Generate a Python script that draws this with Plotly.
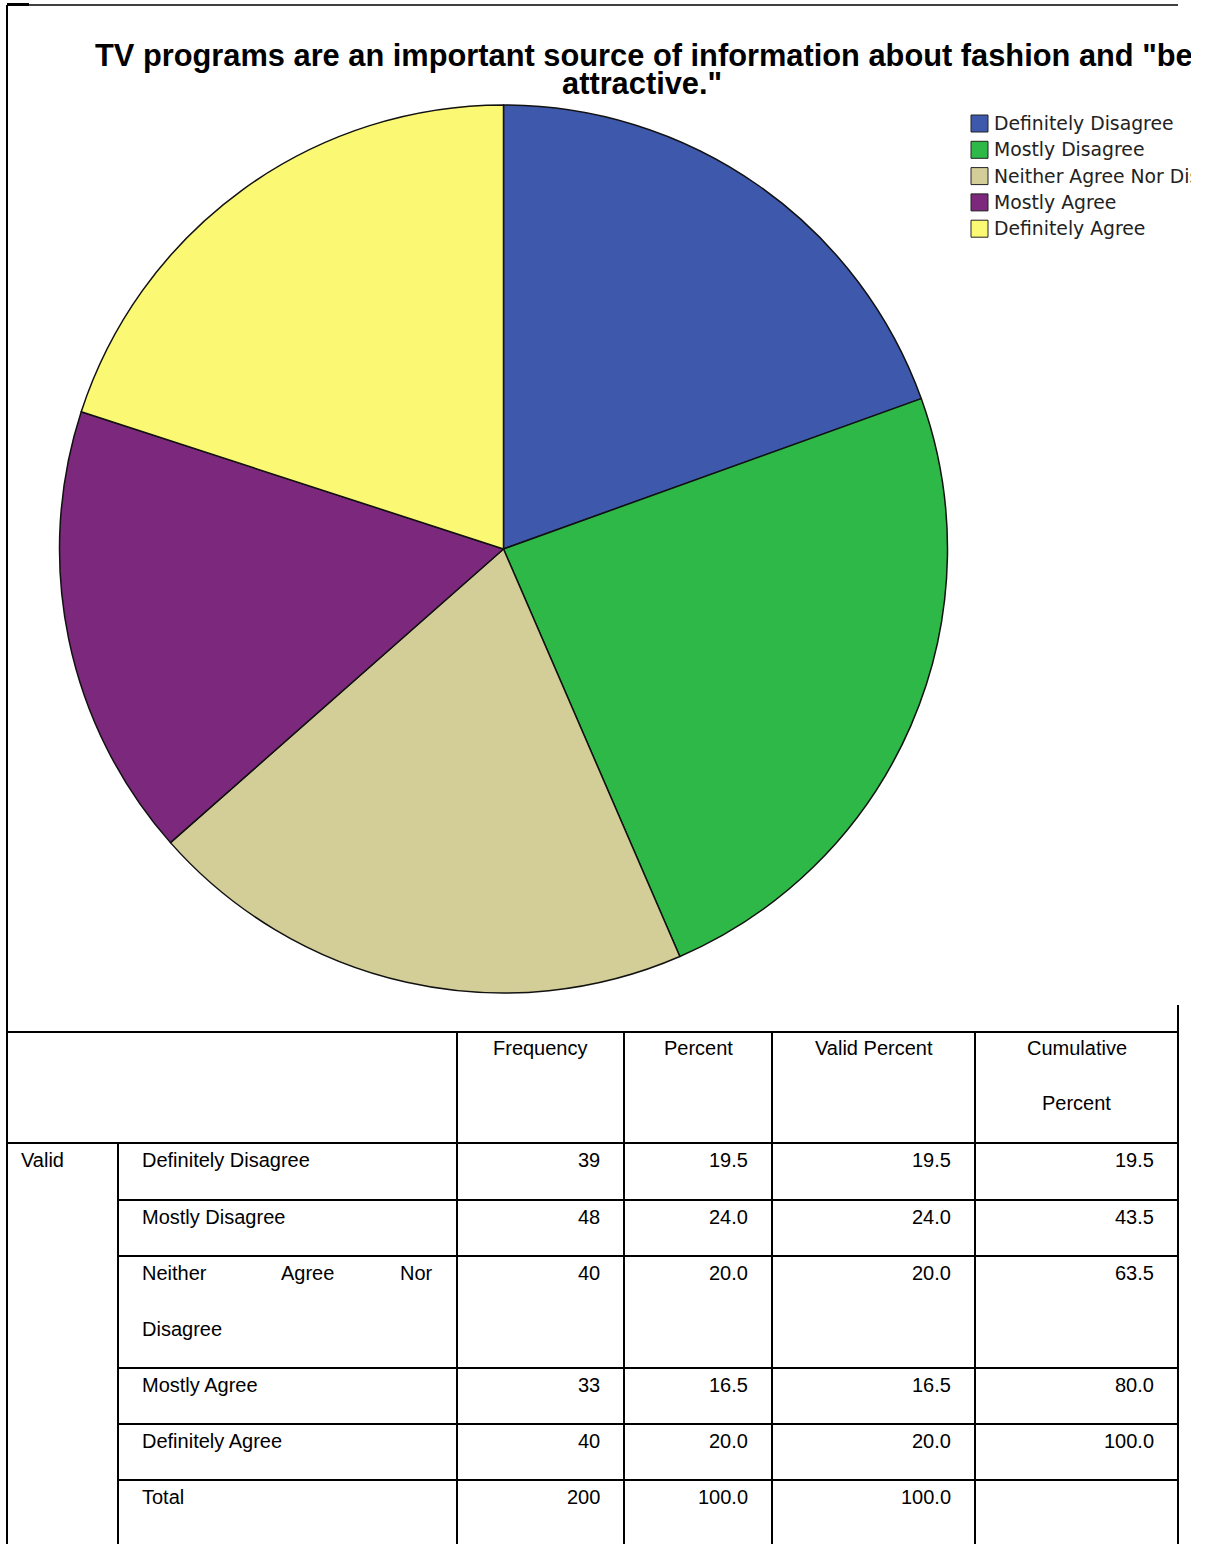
import plotly.graph_objects as go

# ---- data -------------------------------------------------------------
categories = ["Definitely Disagree", "Mostly Disagree", "Neither Agree Nor Disagree",
              "Mostly Agree", "Definitely Agree"]
frequency = [39, 48, 40, 33, 40]
percent = [19.5, 24.0, 20.0, 16.5, 20.0]
valid_percent = [19.5, 24.0, 20.0, 16.5, 20.0]
cumulative = [19.5, 43.5, 63.5, 80.0, 100.0]
total_row = ["Total", 200, 100.0, 100.0, None]
header_cols = ["Frequency", "Percent", "Valid Percent", "Cumulative"]
slice_colors = ["#3E58AC", "#2EB848", "#D3CE97", "#7C287D", "#FBF873"]

title_line1 = 'TV programs are an important source of information about fashion and "being'
title_line2 = 'attractive."'

# ---- canvas -----------------------------------------------------------
W, H = 1191, 1544


def px(x):
    return x / W


def py(y):
    return 1 - y / H


fig = go.Figure()

# ---- pie --------------------------------------------------------------
cx, cy, r = 503.5, 549, 444
fig.add_trace(go.Pie(
    labels=categories,
    values=frequency,
    sort=False,
    direction="clockwise",
    rotation=0,
    textinfo="none",
    hoverinfo="label+value+percent",
    marker=dict(colors=slice_colors, line=dict(color="#111", width=1.5)),
    domain=dict(x=[px(cx - r), px(cx + r)], y=[py(cy + r), py(cy - r)]),
    showlegend=False,
))

shapes = []
annotations = []

# ---- title ------------------------------------------------------------
title_font = dict(family="Liberation Sans, Arial, sans-serif", size=30.8, color="#000")
annotations.append(dict(x=px(93), y=py(55), xref="paper", yref="paper",
                        text="<b>%s</b>" % title_line1,
                        showarrow=False, xanchor="left", yanchor="middle", font=title_font))
annotations.append(dict(x=px(642), y=py(84), xref="paper", yref="paper", text="<b>%s</b>" % title_line2,
                        showarrow=False, xanchor="center", yanchor="middle", font=title_font))

# ---- legend -----------------------------------------------------------
leg_x, leg_y0, leg_step, sw = 971, 115, 26.3, 17
for i, (lab, col) in enumerate(zip(categories, slice_colors)):
    y0 = leg_y0 + i * leg_step
    shapes.append(dict(type="rect", xref="paper", yref="paper",
                       x0=px(leg_x), x1=px(leg_x + sw), y0=py(y0), y1=py(y0 + sw),
                       fillcolor=col, line=dict(color="#222", width=1)))
    annotations.append(dict(x=px(leg_x + sw + 4), y=py(y0 + sw / 2), xref="paper", yref="paper",
                            text=lab, showarrow=False, xanchor="left", yanchor="middle",
                            font=dict(family="DejaVu Sans, sans-serif", size=18.8, color="#222")))

# ---- frame ------------------------------------------------------------
line_k = dict(color="#000", width=1.4)
shapes.append(dict(type="line", xref="paper", yref="paper", x0=px(7), x1=px(1178), y0=py(5), y1=py(5), line=line_k))
shapes.append(dict(type="line", xref="paper", yref="paper", x0=px(7), x1=px(29), y0=py(4.5), y1=py(4.5),
                   line=dict(color="#000", width=3)))

# ---- frequency table --------------------------------------------------
tl = dict(color="#000", width=2)
col_x = [7, 118, 457, 624, 772, 975, 1178]
table_top = 1032
header_bottom = 1143
row_heights = [57, 56, 112, 56, 56, 64]
row_tops = [header_bottom]
for h in row_heights:
    row_tops.append(row_tops[-1] + h)

# horizontal rules
shapes.append(dict(type="line", xref="paper", yref="paper", x0=px(col_x[0]), x1=px(col_x[-1]),
                   y0=py(table_top), y1=py(table_top), line=tl))
shapes.append(dict(type="line", xref="paper", yref="paper", x0=px(col_x[0]), x1=px(col_x[-1]),
                   y0=py(header_bottom), y1=py(header_bottom), line=tl))
for yt in row_tops[1:-1]:
    shapes.append(dict(type="line", xref="paper", yref="paper", x0=px(col_x[1]), x1=px(col_x[-1]),
                       y0=py(yt), y1=py(yt), line=tl))

# vertical rules
shapes.append(dict(type="line", xref="paper", yref="paper", x0=px(col_x[0]), x1=px(col_x[0]),
                   y0=py(5), y1=py(H), line=tl))
shapes.append(dict(type="line", xref="paper", yref="paper", x0=px(col_x[1]), x1=px(col_x[1]),
                   y0=py(header_bottom), y1=py(H), line=tl))
for xv in col_x[2:-1]:
    shapes.append(dict(type="line", xref="paper", yref="paper", x0=px(xv), x1=px(xv),
                       y0=py(table_top), y1=py(H), line=tl))
shapes.append(dict(type="line", xref="paper", yref="paper", x0=px(col_x[-1]), x1=px(col_x[-1]),
                   y0=py(1005), y1=py(H), line=tl))

cell_font = dict(family="Liberation Sans, Arial, sans-serif", size=20, color="#000")


def cell_text(x, y, text, anchor):
    annotations.append(dict(x=px(x), y=py(y), xref="paper", yref="paper", text=text,
                            showarrow=False, xanchor=anchor, yanchor="middle", font=cell_font))


# header
for j, name in enumerate(header_cols):
    xc = (col_x[j + 2] + col_x[j + 3]) / 2
    cell_text(xc, table_top + 16, name, "center")
cell_text((col_x[5] + col_x[6]) / 2, table_top + 71, "Percent", "center")

# body
pad_l, pad_r, first_line, line_gap = 22, 22, 17, 56
cell_text(col_x[0] + 12, row_tops[0] + first_line, "Valid", "left")

rows = list(zip(categories, frequency, percent, valid_percent, cumulative))
for i, (lab, f, p, vp, cp) in enumerate(rows):
    yt = row_tops[i] + first_line
    if lab == "Neither Agree Nor Disagree":
        # justified two-line label
        cell_text(col_x[1] + pad_l, yt, "Neither", "left")
        cell_text(307, yt, "Agree", "center")
        cell_text(col_x[2] - pad_l, yt, "Nor", "right")
        cell_text(col_x[1] + pad_l, yt + line_gap, "Disagree", "left")
    else:
        cell_text(col_x[1] + pad_l, yt, lab, "left")
    cell_text(col_x[3] - pad_r, yt, "%d" % f, "right")
    cell_text(col_x[4] - pad_r, yt, "%.1f" % p, "right")
    cell_text(col_x[5] - pad_r, yt, "%.1f" % vp, "right")
    cell_text(col_x[6] - pad_r, yt, "%.1f" % cp, "right")

# total row
yt = row_tops[5] + first_line
cell_text(col_x[1] + pad_l, yt, total_row[0], "left")
cell_text(col_x[3] - pad_r, yt, "%d" % total_row[1], "right")
cell_text(col_x[4] - pad_r, yt, "%.1f" % total_row[2], "right")
cell_text(col_x[5] - pad_r, yt, "%.1f" % total_row[3], "right")

fig.update_layout(
    width=W, height=H,
    margin=dict(l=0, r=0, t=0, b=0),
    paper_bgcolor="#ffffff",
    plot_bgcolor="#ffffff",
    shapes=shapes,
    annotations=annotations,
    showlegend=False,
)

fig.write_html("out.html")
